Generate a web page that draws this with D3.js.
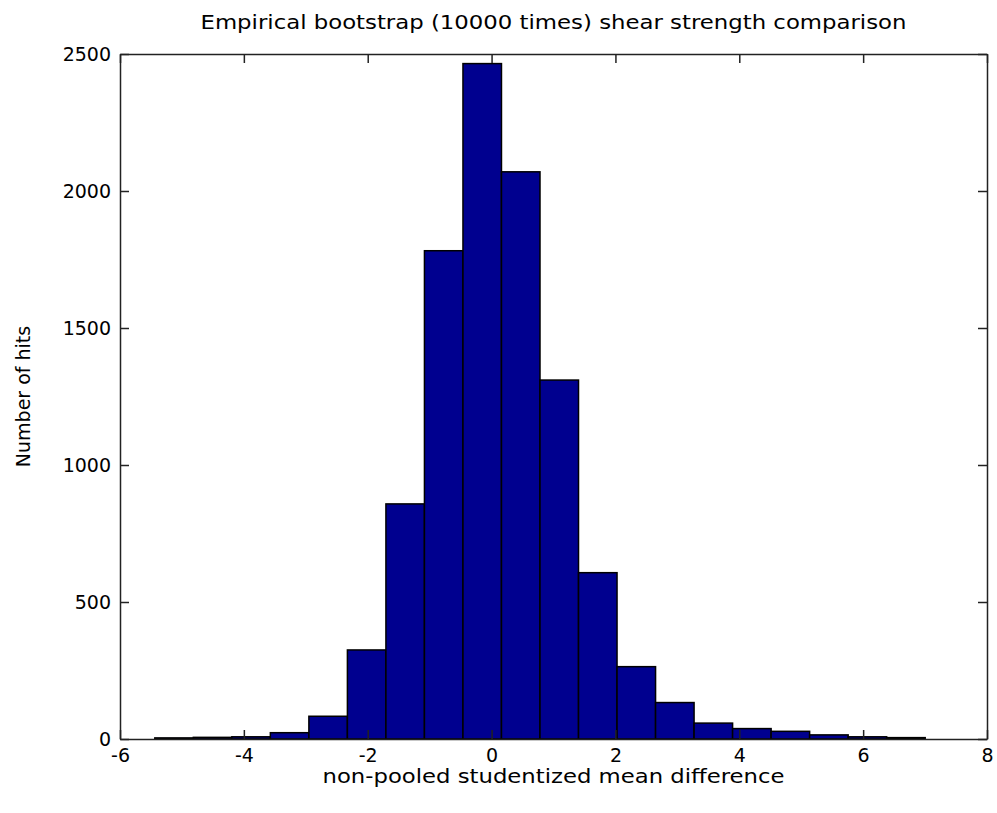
<!DOCTYPE html>
<html>
<head>
<meta charset="utf-8">
<script src="https://cdn.jsdelivr.net/npm/d3@7"></script>
<style>
  html, body { margin: 0; padding: 0; background: #fff; }
  text { font-family: "DejaVu Sans", "Liberation Sans", sans-serif; }
</style>
</head>
<body>
<svg id="chart" width="997" height="813"></svg>
<script>
// ---- data ----
const titleText = "Empirical bootstrap (10000 times) shear strength comparison";
const xLabelText = "non-pooled studentized mean difference";
const yLabelText = "Number of hits";
const binEdges = [-5.438, -4.816, -4.194, -3.572, -2.950, -2.328, -1.706, -1.084, -0.462, 0.160,
                  0.782, 1.404, 2.026, 2.648, 3.270, 3.892, 4.514, 5.136, 5.758, 6.380, 7.002];
const counts = [4, 6, 8, 23, 83, 325, 858, 1782, 2465, 2070,
                1310, 607, 264, 133, 58, 38, 28, 15, 8, 5];
const xTicks = [-6, -4, -2, 0, 2, 4, 6, 8];
const yTicks = [0, 500, 1000, 1500, 2000, 2500];

// ---- layout ----
const svg = d3.select("#chart");
const L = 120, R = 987, T = 54, B = 739;
const x = d3.scaleLinear().domain([-6, 8]).range([L, R]);
const y = d3.scaleLinear().domain([0, 2500]).range([B, T]);
const tickLen = 9;
const fontSize = 19;
const fmt = d => String(d);

// bars
const bins = counts.map((c, i) => ({ x0: binEdges[i], x1: binEdges[i + 1], c }));
svg.append("g").selectAll("rect").data(bins).join("rect")
  .attr("x", d => x(d.x0))
  .attr("y", d => y(d.c))
  .attr("width", d => x(d.x1) - x(d.x0))
  .attr("height", d => y(0) - y(d.c))
  .attr("fill", "#00008F")
  .attr("stroke", "#000")
  .attr("stroke-width", 1.5);

// axes: bottom, top, left, right with inward ticks
const gB = svg.append("g").attr("transform", `translate(0,${B})`)
  .call(d3.axisBottom(x).tickValues(xTicks).tickSizeInner(-tickLen).tickSizeOuter(0).tickPadding(10).tickFormat(fmt));
const gT = svg.append("g").attr("transform", `translate(0,${T})`)
  .call(d3.axisTop(x).tickValues(xTicks).tickSizeInner(-tickLen).tickSizeOuter(0).tickFormat(""));
const gL = svg.append("g").attr("transform", `translate(${L},0)`)
  .call(d3.axisLeft(y).tickValues(yTicks).tickSizeInner(-tickLen).tickSizeOuter(0).tickPadding(9).tickFormat(fmt));
const gR = svg.append("g").attr("transform", `translate(${R},0)`)
  .call(d3.axisRight(y).tickValues(yTicks).tickSizeInner(-tickLen).tickSizeOuter(0).tickFormat(""));

[gB, gT, gL, gR].forEach(g => {
  g.select(".domain").attr("stroke", "#222").attr("stroke-width", 1.5);
  g.selectAll(".tick line").attr("stroke", "#222").attr("stroke-width", 1.5);
  g.selectAll(".tick text").attr("fill", "#000").style("font-size", fontSize + "px")
    .style("font-family", '"DejaVu Sans", sans-serif');
});

// titles
svg.append("text").attr("x", (L + R) / 2).attr("y", 29)
  .attr("text-anchor", "middle").style("font-size", fontSize + "px")
  .attr("textLength", 706).attr("lengthAdjust", "spacingAndGlyphs").text(titleText);
svg.append("text").attr("x", (L + R) / 2 + 0).attr("y", 783)
  .attr("text-anchor", "middle").style("font-size", fontSize + "px")
  .attr("textLength", 462).attr("lengthAdjust", "spacingAndGlyphs").text(xLabelText);
svg.append("text").attr("transform", `translate(30,${(T + B) / 2}) rotate(-90)`)
  .attr("text-anchor", "middle").style("font-size", fontSize + "px").text(yLabelText);
</script>
</body>
</html>
